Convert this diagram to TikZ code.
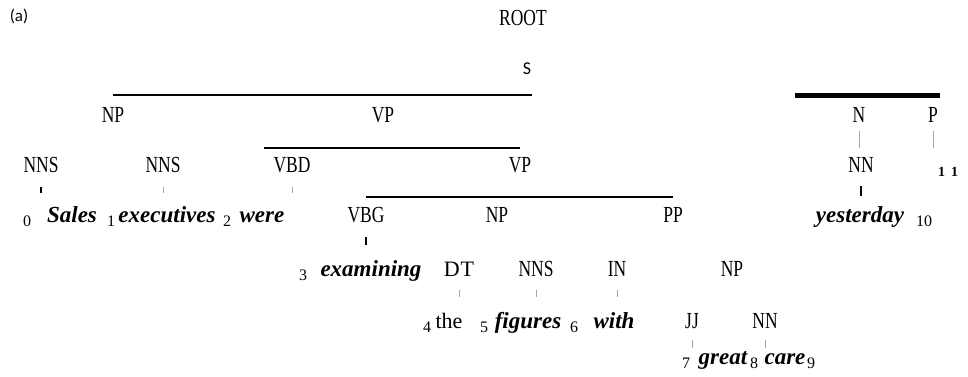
\documentclass[tikz,border=0pt]{standalone}
\usepackage{fontspec}
\setmainfont{Liberation Serif}
\newfontfamily\labelfont{Carlito}
\newfontfamily\tagfont[FakeStretch=0.76]{Liberation Serif}
\usetikzlibrary{positioning}

\tikzset{
  tag/.style={anchor=base, inner sep=0pt, font=\tagfont\fontsize{23}{26}\selectfont},
  word/.style={anchor=base, inner sep=0pt, font=\fontsize{23}{26}\selectfont\bfseries\itshape},
  plain/.style={anchor=base, inner sep=0pt, font=\fontsize{22}{26}\selectfont},
  idx/.style={anchor=base, inner sep=0pt, font=\fontsize{16}{18}\selectfont, yshift=-4pt},
  bar/.style={line width=2.6pt},
  tick/.style={line width=0.6pt, gray!70},
  tickdark/.style={line width=1.6pt, black}
}

\begin{document}
\begin{tikzpicture}[x=1pt, y=-1pt]

    % Frame
    \useasboundingbox (0,0) rectangle (968,377);

    % Top labels
    \node[anchor=base, inner sep=0pt, font=\labelfont\fontsize{17}{20}\selectfont] (lab) at (19,22) {(a)};
    \node[tag] (root) at (523,26) {ROOT};
    \node[anchor=base, inner sep=0pt, font=\labelfont\fontsize{18}{20}\selectfont] (s) at (527,75) {S};

    % Level of S
    \node[tag] (npA) at (113,122) {NP};
    \node[tag] (vpA) at (383,122) {VP};

    % Level of VP
    \node[tag] (nnsA) at (41,172) {NNS};
    \node[tag] (nnsB) at (163,172) {NNS};
    \node[tag] (vbd)  at (292,172) {VBD};
    \node[tag] (vpB)  at (520,172) {VP};

    % Words 0-2
    \node[idx]  (iA) at (27,222)  {0};
    \node[word] (wA) at (72,222)  {Sales};
    \node[idx]  (iB) at (111,222) {1};
    \node[word] (wB) at (167,222) {executives};
    \node[idx]  (iC) at (227,222) {2};
    \node[word] (wC) at (262,222) {were};

    % Level of inner VP
    \node[tag] (vbg) at (366,222) {VBG};
    \node[tag] (npB) at (497,222) {NP};
    \node[tag] (pp)  at (673,222) {PP};

    % Row of examining
    \node[idx]  (iD) at (303,276) {3};
    \node[word] (wD) at (371,276) {examining};
    \node[plain] (dt) at (459,276) {D\hspace{1pt}T};
    \node[tag]  (nnsC) at (536,276) {NNS};
    \node[tag]  (in) at (617,276) {IN};
    \node[tag]  (npC) at (732,276) {NP};

    % Row of the figures with
    \node[idx]   (iE) at (427,328) {4};
    \node[plain] (wE) at (449,328) {the};
    \node[idx]   (iF) at (484,328) {5};
    \node[word]  (wF) at (528,328) {figures};
    \node[idx]   (iG) at (574,328) {6};
    \node[word]  (wG) at (614,328) {with};
    \node[tag]   (jj) at (692,328) {JJ};
    \node[tag]   (nnA) at (765,328) {NN};

    % Row of great care
    \node[idx]  (iH) at (686,364) {7};
    \node[word] (wH) at (723,364) {great};
    \node[idx]  (iI) at (754,364) {8};
    \node[word] (wI) at (785,364) {care};
    \node[idx]  (iJ) at (811,364) {9};

    % Right part
    \node[tag]  (nA) at (859,122) {N};
    \node[tag]  (pA) at (933,122) {P};
    \node[tag]  (nnB) at (861,172) {NN};
    \node[anchor=base, inner sep=0pt, font=\fontsize{14}{16}\selectfont\bfseries] (iK) at (948,176) {1\hspace{6pt}1};
    \node[word] (wK) at (860,222) {yesterday};
    \node[idx]  (iL) at (924,222) {10};

    % Bars
    \draw[bar] ([yshift=27pt]npA.base) -- ([xshift=5pt, yshift=27pt]npA.base -| s.base);
    \draw[bar] ([xshift=-28pt, yshift=24pt]vbd.base) -- ([yshift=24pt]vbd.base -| vpB.base);
    \draw[bar] ([yshift=25pt]vbg.base) -- ([yshift=25pt]vbg.base -| pp.base);
    \draw[line width=5pt] ([xshift=-64pt, yshift=26pt]nA.base) -- ([xshift=7pt, yshift=26pt]pA.base);

    % Ticks
    \draw[tickdark] ([yshift=-15pt]nnsA.base) -- ([yshift=29pt]nnsA.base |- wA.base);
    \draw[tick] ([yshift=-15pt]nnsB.base) -- ([yshift=29pt]nnsB.base |- wB.base);
    \draw[tick] ([yshift=-15pt]vbd.base) -- ([yshift=29pt]vbd.base |- wC.base);
    \draw[tickdark] ([yshift=-15pt]vbg.base) -- ([yshift=31pt]vbg.base |- wD.base);
    \draw[tick] ([yshift=-14pt]dt.base) -- ([yshift=31pt]dt.base |- wE.base);
    \draw[tick] ([yshift=-14pt]nnsC.base) -- ([yshift=31pt]nnsC.base |- wF.base);
    \draw[tick] ([yshift=-14pt]in.base) -- ([yshift=31pt]in.base |- wG.base);
    \draw[tick] ([yshift=-12pt]jj.base) -- ([yshift=16pt]jj.base |- wH.base);
    \draw[tick] ([yshift=-12pt]nnA.base) -- ([yshift=16pt]nnA.base |- wI.base);
    \draw[tick] ([yshift=-9pt]nA.base) -- ([yshift=24pt]nA.base |- nnB.base);
    \draw[tick] ([yshift=-9pt]pA.base) -- ([yshift=24pt]pA.base |- nnB.base);
    \draw[tickdark] ([yshift=-14pt]nnB.base) -- ([yshift=26pt]nnB.base |- wK.base);

\end{tikzpicture}
\end{document}
